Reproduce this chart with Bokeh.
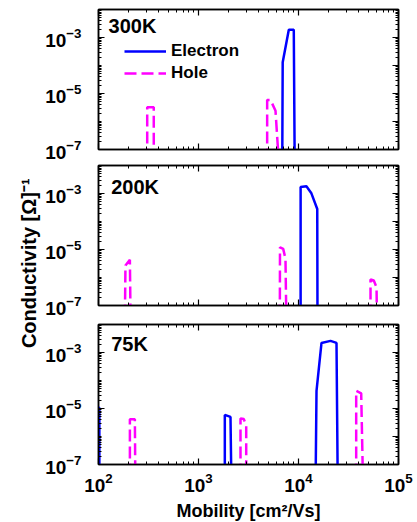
import numpy as np
from bokeh.plotting import figure
from bokeh.layouts import column, row
from bokeh.models import (LogAxis, FixedTicker, Legend, LegendItem, Label, Range1d,
                          LogTickFormatter)
from bokeh.embed import file_html
from bokeh.resources import INLINE

# ---------------- data (mobility in cm^2/Vs, conductivity in 1/Ohm) ----------------
BASE = 1e-8  # below the visible axis (peaks drop off the bottom)

temps = ["300K", "200K", "75K"]

# 300 K
e300_mu = [[6870, 6950, 8000, 8970, 9180]]
e300_s = [[BASE, 1.3e-4, 1.9e-3, 1.9e-3, BASE]]
h300_mu = [[307, 307, 357, 357], [4860, 4860, 5250, 5890, 6500]]
h300_s = [[BASE, 3.2e-6, 3.2e-6, BASE], [BASE, 5.9e-6, 5.9e-6, 2.4e-6, BASE]]

# 200 K
e200_mu = [[10500, 10500, 12000, 13400, 15400, 15500]]
e200_s = [[BASE, 1.7e-3, 1.8e-3, 1.05e-3, 2.8e-4, BASE]]
h200_mu = [[183, 186, 206, 210], [6500, 6530, 7030, 7410, 7590], [52500, 52500, 56600, 60300, 61200]]
h200_s = [[BASE, 2.7e-6, 4.3e-6, BASE], [BASE, 1.2e-5, 1.05e-5, 4.7e-6, BASE], [BASE, 8.5e-7, 7.8e-7, 4.5e-7, BASE]]

# 75 K
e75_mu = [[95, 102, 102], [1833, 1833, 2089, 2138], [14790, 15140, 16980, 20900, 23990, 24720]]
e75_s = [[1.07e-5, 1.07e-5, BASE], [BASE, 5.9e-6, 5.0e-6, BASE], [BASE, 4.3e-5, 2.2e-3, 2.6e-3, 2.2e-3, BASE]]
h75_mu = [[206, 206, 231, 234], [2630, 2630, 2840, 3000, 3000], [37750, 37750, 42360, 44360]]
h75_s = [[BASE, 4.1e-6, 4.1e-6, BASE], [BASE, 4.4e-6, 4.2e-6, 2.4e-6, BASE], [BASE, 4.3e-5, 3.5e-5, BASE]]

electrons = [(e300_mu, e300_s), (e200_mu, e200_s), (e75_mu, e75_s)]
holes = [(h300_mu, h300_s), (h200_mu, h200_s), (h75_mu, h75_s)]

x_major = [1e2, 1e3, 1e4, 1e5]
y_decades = [1e-7, 1e-6, 1e-5, 1e-4, 1e-3, 1e-2]
y_labelled = [1e-7, 1e-5, 1e-3]
y_unlabelled = [1e-6, 1e-4, 1e-2]

y_title = "Conductivity  [Ω]⁻¹"
x_title = "Mobility [cm²/Vs]"

FONT = "Liberation Sans"
BLUE = "#0000FF"
MAGENTA = "#FF00FF"

LABEL_W = 42


def peaks_to_xy(mus, ss):
    xs, ys = [], []
    for mu, s in zip(mus, ss):
        if xs:
            xs.append(np.nan)
            ys.append(np.nan)
        xs.extend(mu)
        ys.extend(s)
    return xs, ys


def minor_log(majors):
    out = []
    for m in majors[:-1]:
        for k in range(2, 10):
            out.append(m * k)
    return out


def style_axis(ax, show_labels):
    ax.major_tick_in = 6
    ax.major_tick_out = 0
    ax.minor_tick_in = 3
    ax.minor_tick_out = 0
    ax.axis_line_width = 1.5
    ax.axis_line_color = "black"
    ax.major_tick_line_color = "black"
    ax.minor_tick_line_color = "black"
    ax.major_tick_line_width = 1.2
    ax.minor_tick_line_width = 1
    ax.major_label_text_font = FONT
    ax.major_label_text_font_style = "bold"
    ax.major_label_text_color = "black"
    if show_labels:
        ax.major_label_text_font_size = "19px"
    else:
        ax.major_label_text_font_size = "1px"
        ax.major_label_text_alpha = 0
        ax.major_label_standoff = 0


# ---- narrow strip holding the shared y-axis title (as an axis label) ----
lab_fig = figure(frame_width=1, frame_height=520,
                 x_range=Range1d(0, 1), y_range=Range1d(0, 1),
                 x_axis_location=None, y_axis_location="left",
                 output_backend="svg", toolbar_location=None,
                 min_border_left=LABEL_W - 1, min_border_right=0,
                 min_border_top=0, min_border_bottom=2,
                 outline_line_color=None,
                 background_fill_color="white", border_fill_color="white")
lab_fig.grid.visible = False
ya = lab_fig.yaxis[0]
ya.ticker = FixedTicker(ticks=[])
ya.axis_line_color = None
ya.major_tick_line_color = None
ya.minor_tick_line_color = None
ya.major_label_text_font_size = "1px"
ya.major_label_text_alpha = 0
ya.major_label_standoff = 0
ya.axis_label = y_title
ya.axis_label_text_font = FONT
ya.axis_label_text_font_style = "bold"
ya.axis_label_text_font_size = "20px"
ya.axis_label_text_color = "black"
ya.axis_label_standoff = 2

borders = [(9, 14), (2, 15), (4, 58)]
panels = []
for i, t in enumerate(temps):
    top_b, bot_b = borders[i]
    p = figure(frame_width=300, frame_height=140,
               x_axis_type="log", y_axis_type="log",
               x_range=Range1d(1e2, 1e5), y_range=Range1d(1e-7, 1e-2),
               output_backend="svg", toolbar_location=None,
               min_border_left=98 - LABEL_W, min_border_right=19,
               min_border_top=top_b, min_border_bottom=bot_b,
               background_fill_color="white", border_fill_color="white")
    p.grid.visible = False
    p.outline_line_color = "black"
    p.outline_line_width = 1.5

    xt = FixedTicker(ticks=x_major, minor_ticks=minor_log(x_major))
    yt_left = FixedTicker(ticks=y_labelled,
                          minor_ticks=minor_log(y_decades) + y_unlabelled)
    yt_right = FixedTicker(ticks=y_decades, minor_ticks=minor_log(y_decades))

    bottom_ax = p.xaxis[0]
    left_ax = p.yaxis[0]
    bottom_ax.ticker = xt
    left_ax.ticker = yt_left
    bottom_ax.formatter = LogTickFormatter()
    left_ax.formatter = LogTickFormatter()
    style_axis(bottom_ax, i == 2)
    style_axis(left_ax, True)
    left_ax.major_label_standoff = 17
    if i == 2:
        bottom_ax.major_label_standoff = 8

    top_ax = LogAxis(ticker=xt, formatter=LogTickFormatter())
    style_axis(top_ax, False)
    p.add_layout(top_ax, "above")
    right_ax = LogAxis(ticker=yt_right, formatter=LogTickFormatter())
    style_axis(right_ax, False)
    p.add_layout(right_ax, "right")

    ex, ey = peaks_to_xy(*electrons[i])
    hx, hy = peaks_to_xy(*holes[i])
    r_e = p.line(ex, ey, line_color=BLUE, line_width=2.5)
    r_h = p.line(hx, hy, line_color=MAGENTA, line_width=2.5, line_dash="12 5")

    if i == 0:
        leg = Legend(items=[LegendItem(label="Electron", renderers=[r_e]),
                            LegendItem(label="Hole", renderers=[r_h])],
                     location=(26, 66), padding=0, margin=0, spacing=2,
                     glyph_width=42, glyph_height=20, label_height=20,
                     label_standoff=5, border_line_alpha=0,
                     background_fill_alpha=0,
                     label_text_font=FONT, label_text_font_style="bold",
                     label_text_font_size="17px", label_text_color="black")
        p.add_layout(leg)

    lab_pos = [(126, 10 ** -2.21), (134, 10 ** -2.39), (134, 10 ** -2.32)]
    p.add_layout(Label(x=lab_pos[i][0], y=lab_pos[i][1], text=t,
                       text_font=FONT, text_font_style="bold",
                       text_font_size="20px", text_baseline="top",
                       text_color="black"))

    if i == 2:
        bottom_ax.axis_label = x_title
        bottom_ax.axis_label_text_font = FONT
        bottom_ax.axis_label_text_font_style = "bold"
        bottom_ax.axis_label_text_font_size = "18px"
        bottom_ax.axis_label_text_color = "black"
        bottom_ax.axis_label_standoff = 6
    panels.append(p)

layout = row(lab_fig, column(*panels, spacing=0), spacing=0)
open("out.html", "w").write(file_html(layout, INLINE))
